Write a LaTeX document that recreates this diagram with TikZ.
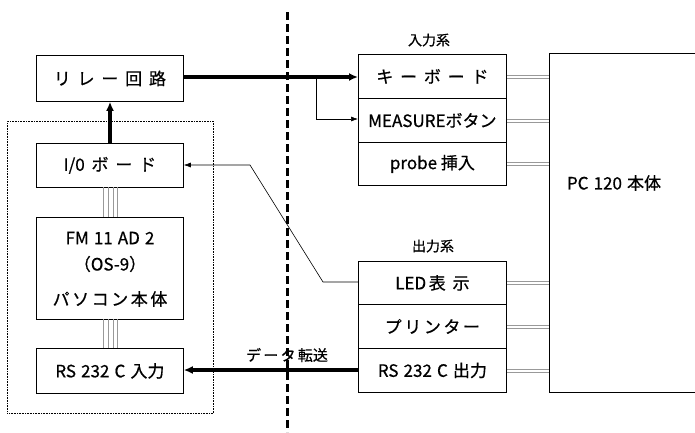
\documentclass[tikz,border=0pt]{standalone}
\usepackage{fontspec}
\setmainfont{Noto Sans CJK JP}[FakeBold=0.6]
\usetikzlibrary{arrows.meta}
\newcommand{\gp}{\hspace{0.4em}}
\newcommand{\ls}{\hspace{0.15em}}
\newcommand{\ms}{\hspace{0.3em}}
\begin{document}
\begin{tikzpicture}[x=1pt,y=-1pt,
  box/.style={draw,line width=0.8pt,anchor=north west,minimum width=147pt,inner sep=0pt,font=\fontsize{17}{20}\selectfont},
  lbl/.style={inner sep=0pt,font=\fontsize{14}{16}\selectfont},
  thick arr/.style={line width=3.5pt,-{Latex[length=9pt,width=8pt]}},
  thin arr/.style={line width=0.6pt,-{Latex[length=7pt,width=5pt]}},
  bus/.style={draw=gray!80,line width=0.5pt},
  dbl/.style={draw=gray!80,line width=0.6pt},
]
\clip (0,0) rectangle (695,432);
\fill[white] (0,0) rectangle (695,432);
% dashed separator
\coordinate (dtop) at (287,12);
\coordinate (dbot) at (287,432);
\draw[line width=3pt,dash pattern=on 8pt off 4pt] (dtop) -- (dbot);
% dotted pc frame
\node[draw,densely dotted,line width=0.6pt,anchor=north west,minimum width=206pt,minimum height=292pt,inner sep=0pt] (frame) at (7,121) {};
% left boxes
\node[box,minimum height=46pt] (relay) at (36,55) {リ\gp レ\gp ー\gp 回\gp 路};
\node[box,minimum height=44pt] (io) at (36,143) {I/0\gp ボ\gp ー\gp ド};
\node[box,minimum height=102pt] (fm) at (36,217) {};
\node[inner sep=0pt,font=\fontsize{17}{20}\selectfont] (fm1) at (110,238) {FM\ms 11\ms AD\ms 2};
\node[inner sep=0pt,font=\fontsize{17}{20}\selectfont] (fm2) at (110,264) {（OS-9）};
\node[inner sep=0pt,font=\fontsize{17}{20}\selectfont] (fm3) at (110,299) {パ\ls ソ\ls コ\ls ン\ls 本\ls 体};
\node[box,minimum height=45pt] (rsin) at (36,348) {RS\ms 232\ms C\ms 入力};
% input boxes
\node[lbl] (inlbl) at (429,40) {入力系};
\node[box,minimum width=148pt,minimum height=44pt] (key) at (358,54) {キ\gp ー\gp ボ\gp ー\gp ド};
\node[box,minimum width=148pt,minimum height=44pt] (meas) at (358,98) {MEASUREボタン};
\node[box,minimum width=148pt,minimum height=43pt] (probe) at (358,142) {probe 挿入};
% output boxes
\node[lbl] (outlbl) at (433,246) {出力系};
\node[box,minimum width=148pt,minimum height=43pt] (led) at (358,261) {LED\ls 表\gp 示};
\node[box,minimum width=148pt,minimum height=44pt] (prn) at (358,304) {プ\ls リ\ls ン\ls タ\ls ー};
\node[box,minimum width=148pt,minimum height=44pt] (rsout) at (358,348) {RS\ms 232\ms C\ms 出力};
% PC120
\node[box,minimum width=170pt,minimum height=339pt] (pc) at (549,53) {};
\node[inner sep=0pt,font=\fontsize{17}{20}\selectfont] (pclbl) at (614,183) {PC\ms 120\ms 本体};
% buses left
\foreach \xx in {103,108,113,117}{
  \draw[bus] (\xx,187) -- (\xx,217);
  \draw[bus] (\xx,319) -- (\xx,348);
}
% double lines right
\foreach \nn in {key,meas,probe,led,prn,rsout}{
  \draw[dbl] ([yshift=-1.5pt]\nn.east) -- ([yshift=-1.5pt]\nn.east -| pc.west);
  \draw[dbl] ([yshift=1.5pt]\nn.east) -- ([yshift=1.5pt]\nn.east -| pc.west);
}
% arrows
\draw[thick arr] (io.north -| 110,0) -- (relay.south -| 110,0);
\coordinate (br) at (316,77);
\draw[thick arr] (relay.east |- br) -- (key.west |- br);
\draw[thin arr] (br) -- (316,119) -- (meas.west |- 0,119);
\coordinate (k1) at (323,282);
\coordinate (k2) at (250,165);
\draw[thin arr] (led.west |- k1) -- (k1) -- (k2) -- (io.east |- k2);
\draw[thick arr] (rsout.west |- 0,370) -- (rsin.east |- 0,370);
\node[lbl,font=\fontsize{15}{17}\selectfont] (dt) at (287,355) {デ\ls ー\ls タ\ls 転送};
\end{tikzpicture}
\end{document}
